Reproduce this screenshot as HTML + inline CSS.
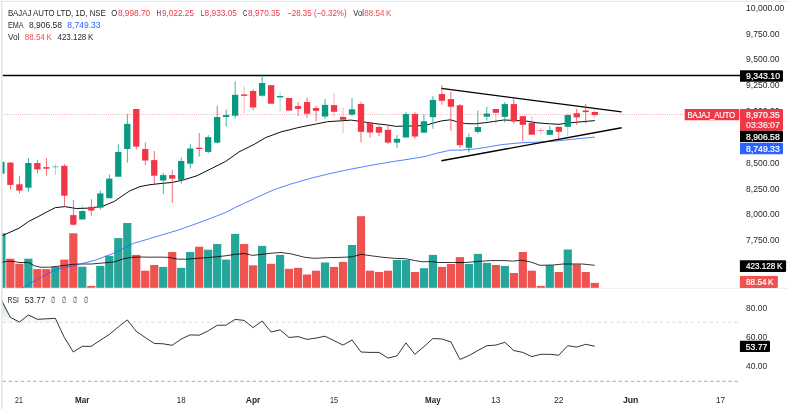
<!DOCTYPE html>
<html lang="en"><head><meta charset="utf-8"><title>BAJAJ AUTO LTD chart</title>
<style>html,body{margin:0;padding:0;background:#fff}body{width:788px;height:409px;overflow:hidden;position:relative}svg{position:absolute;left:0;top:0;display:block}text{font-family:"Liberation Sans",Arial,sans-serif;font-size:8.66px;fill:#1c202b;white-space:pre}.b{font-weight:bold}.w{fill:#fff;stroke:#fff;stroke-width:.22px}.r{fill:#F23645}.vr{fill:#ef5350}.bl{fill:#2962FF}.t{fill-opacity:.82}</style></head><body>
<svg width="788" height="409" viewBox="0 0 788 409">
<defs><clipPath id="pc"><rect x="2.6" y="2" width="737.4" height="286.2"/></clipPath><clipPath id="rc"><rect x="2.6" y="289" width="737.4" height="100"/></clipPath><linearGradient id="og" x1="0" y1="0" x2="0" y2="1"><stop offset="0" stop-color="#4caf50" stop-opacity="0.35"/><stop offset="1" stop-color="#4caf50" stop-opacity="0.03"/></linearGradient></defs>
<rect x="0" y="0.8" width="788" height="1" fill="#e0e3eb"/>
<rect x="1.1" y="1" width="1.4" height="408" fill="#e0e3eb"/>
<rect x="2" y="287.8" width="786" height="1" fill="#e9ebf0"/>
<g clip-path="url(#pc)">
<rect x="-2.70" y="233.3" width="8.2" height="54.5" fill="#26a69a"/>
<rect x="6.29" y="258.7" width="8.2" height="29.1" fill="#ef5350"/>
<rect x="15.28" y="263.8" width="8.2" height="24.0" fill="#ef5350"/>
<rect x="24.27" y="258.7" width="8.2" height="29.1" fill="#26a69a"/>
<rect x="33.26" y="269.1" width="8.2" height="18.7" fill="#ef5350"/>
<rect x="42.25" y="269.1" width="8.2" height="18.7" fill="#ef5350"/>
<rect x="51.24" y="266.9" width="8.2" height="20.9" fill="#26a69a"/>
<rect x="60.23" y="259.6" width="8.2" height="28.2" fill="#ef5350"/>
<rect x="69.22" y="233.3" width="8.2" height="54.5" fill="#ef5350"/>
<rect x="78.21" y="266.7" width="8.2" height="21.1" fill="#26a69a"/>
<rect x="87.20" y="285.9" width="8.2" height="1.9" fill="#ef5350"/>
<rect x="96.19" y="265.9" width="8.2" height="21.9" fill="#26a69a"/>
<rect x="105.18" y="255.8" width="8.2" height="32.0" fill="#26a69a"/>
<rect x="114.17" y="238.1" width="8.2" height="49.7" fill="#26a69a"/>
<rect x="123.16" y="223.0" width="8.2" height="64.8" fill="#26a69a"/>
<rect x="132.15" y="254.9" width="8.2" height="32.9" fill="#ef5350"/>
<rect x="141.14" y="270.7" width="8.2" height="17.1" fill="#ef5350"/>
<rect x="150.13" y="265.0" width="8.2" height="22.8" fill="#ef5350"/>
<rect x="159.12" y="266.9" width="8.2" height="20.9" fill="#26a69a"/>
<rect x="168.11" y="252.0" width="8.2" height="35.8" fill="#ef5350"/>
<rect x="177.10" y="267.8" width="8.2" height="20.0" fill="#26a69a"/>
<rect x="186.09" y="252.0" width="8.2" height="35.8" fill="#26a69a"/>
<rect x="195.08" y="246.7" width="8.2" height="41.1" fill="#ef5350"/>
<rect x="204.07" y="249.7" width="8.2" height="38.1" fill="#26a69a"/>
<rect x="213.06" y="244.0" width="8.2" height="43.8" fill="#26a69a"/>
<rect x="222.05" y="259.6" width="8.2" height="28.2" fill="#26a69a"/>
<rect x="231.04" y="233.9" width="8.2" height="53.9" fill="#26a69a"/>
<rect x="240.03" y="244.0" width="8.2" height="43.8" fill="#ef5350"/>
<rect x="249.02" y="265.3" width="8.2" height="22.5" fill="#ef5350"/>
<rect x="258.01" y="245.9" width="8.2" height="41.9" fill="#26a69a"/>
<rect x="267.00" y="263.8" width="8.2" height="24.0" fill="#ef5350"/>
<rect x="275.99" y="254.9" width="8.2" height="32.9" fill="#26a69a"/>
<rect x="284.98" y="268.8" width="8.2" height="19.0" fill="#ef5350"/>
<rect x="293.97" y="267.8" width="8.2" height="20.0" fill="#ef5350"/>
<rect x="302.96" y="274.5" width="8.2" height="13.3" fill="#ef5350"/>
<rect x="311.95" y="270.7" width="8.2" height="17.1" fill="#ef5350"/>
<rect x="320.94" y="262.5" width="8.2" height="25.3" fill="#26a69a"/>
<rect x="329.93" y="266.9" width="8.2" height="20.9" fill="#ef5350"/>
<rect x="338.92" y="261.9" width="8.2" height="25.9" fill="#ef5350"/>
<rect x="347.91" y="245.0" width="8.2" height="42.8" fill="#26a69a"/>
<rect x="356.90" y="216.2" width="8.2" height="71.6" fill="#ef5350"/>
<rect x="365.89" y="270.7" width="8.2" height="17.1" fill="#ef5350"/>
<rect x="374.88" y="272.0" width="8.2" height="15.8" fill="#ef5350"/>
<rect x="383.87" y="270.7" width="8.2" height="17.1" fill="#ef5350"/>
<rect x="392.86" y="260.0" width="8.2" height="27.8" fill="#26a69a"/>
<rect x="401.85" y="260.0" width="8.2" height="27.8" fill="#26a69a"/>
<rect x="410.84" y="272.0" width="8.2" height="15.8" fill="#ef5350"/>
<rect x="419.83" y="268.2" width="8.2" height="19.6" fill="#26a69a"/>
<rect x="428.82" y="254.9" width="8.2" height="32.9" fill="#26a69a"/>
<rect x="437.81" y="266.9" width="8.2" height="20.9" fill="#ef5350"/>
<rect x="446.80" y="264.0" width="8.2" height="23.8" fill="#ef5350"/>
<rect x="455.79" y="257.1" width="8.2" height="30.7" fill="#ef5350"/>
<rect x="464.78" y="264.0" width="8.2" height="23.8" fill="#26a69a"/>
<rect x="473.77" y="253.9" width="8.2" height="33.9" fill="#26a69a"/>
<rect x="482.76" y="262.9" width="8.2" height="24.9" fill="#26a69a"/>
<rect x="491.75" y="265.0" width="8.2" height="22.8" fill="#ef5350"/>
<rect x="500.74" y="265.9" width="8.2" height="21.9" fill="#26a69a"/>
<rect x="509.73" y="273.0" width="8.2" height="14.8" fill="#ef5350"/>
<rect x="518.72" y="252.0" width="8.2" height="35.8" fill="#ef5350"/>
<rect x="527.71" y="270.7" width="8.2" height="17.1" fill="#ef5350"/>
<rect x="536.70" y="285.9" width="8.2" height="1.9" fill="#ef5350"/>
<rect x="545.69" y="265.3" width="8.2" height="22.5" fill="#26a69a"/>
<rect x="554.68" y="272.0" width="8.2" height="15.8" fill="#ef5350"/>
<rect x="563.67" y="249.5" width="8.2" height="38.3" fill="#26a69a"/>
<rect x="572.66" y="264.4" width="8.2" height="23.4" fill="#ef5350"/>
<rect x="581.65" y="272.0" width="8.2" height="15.8" fill="#ef5350"/>
<rect x="590.64" y="282.9" width="8.2" height="4.9" fill="#ef5350"/>
<polyline fill="none" stroke="#000" stroke-width="0.8" stroke-linejoin="round" points="1.9,262.5 7.6,261.1 14.3,261.5 19,262.5 28.6,262.5 34.3,265.7 40,267.2 49.5,267.2 61,265.9 72.4,264.4 80,264 91.4,264 102.9,263 114.3,261.9 123.8,258.7 131.4,257.3 141,257 150,257.2 159,257.1 168.6,257.3 178.1,259.2 187.6,259.2 197.1,258.3 206.7,257.7 216.2,256.8 225.7,255.8 235.2,254.3 244.8,253.5 252.4,255.4 261.9,254.3 273.3,253 281,252.5 291.4,253.9 304.8,257.3 314.3,258.3 327.6,257.7 342.9,257.3 352.4,256.8 361,254.3 371.4,255.8 382.9,257.3 394.3,258.3 405.7,258.7 415.2,260.6 422.9,261.8 430,261.5 439,262.5 452.4,262.5 465.7,262.5 477.1,261.5 490.5,260.6 503.8,260.6 513.3,261.1 521,260.2 530.5,261.9 540,265.3 553.3,265 562.9,264 582.4,264 594.8,265.3"/>
<polyline fill="none" stroke="#2962FF" stroke-width="0.8" stroke-linejoin="round" points="21.9,288.3 38.1,278.7 57.1,269.1 76.2,265 95.2,260.2 114.3,253 133.3,243.4 140,241.5 159,235.8 178.1,230.1 197.1,223.4 216.2,216.2 226.7,212 234.3,207.9 254.3,198.6 273.3,190 289.9,184.3 310,178.5 330,173.5 350,169.3 370,165.5 390,162 410,159 425,156.5 437.7,153 450.4,150.2 463.1,150 475.8,148.9 488.5,146.9 501.2,144.7 513.9,143.4 525,142.6 534,142.3 553,141.3 569,139.6 594.8,137.1"/>
<polyline fill="none" stroke="#000" stroke-width="0.95" stroke-linejoin="round" points="1.9,235.8 19,228.2 28.6,221.5 38,216.7 46.7,212 55.2,207.7 64.8,206.6 76.2,208.5 89.5,208.1 102.9,206.2 114.3,201.4 129.5,191 140,186.6 150,184.7 159,183.7 172.4,182.4 183.8,179.9 197.1,175.7 210.5,169 225.7,161.4 239,151.9 254.3,144.3 265.7,137.6 281,131.9 290,129.7 299,127.4 318.1,123.6 327.6,121.7 342.9,120.7 351.4,120.1 361.9,121.7 375.2,123.6 386.7,124.9 396.2,126.4 401.9,126.1 413.3,125.9 425,125.6 432.6,123.2 441.5,120.9 450.4,119.8 456.8,121.7 465.7,123.6 475.8,123.8 486,122.6 494.9,121.3 503.8,120 514,120.4 525,120.9 538,122.9 549.5,123.8 559,124.3 569,122.9 594.8,120.6"/>
<line x1="2.6" y1="75.52" x2="740" y2="75.52" stroke="#000" stroke-width="1.35"/>
<line x1="441.3" y1="88.4" x2="621.6" y2="111.9" stroke="#000" stroke-width="1.4"/>
<line x1="441.3" y1="160.8" x2="621.6" y2="127.8" stroke="#000" stroke-width="1.4"/>
<line x1="2.6" y1="114.4" x2="740" y2="114.4" stroke="#F23645" stroke-width="0.75" stroke-dasharray="0.75 1.45" opacity="0.75"/>
<rect x="1.03" y="161.8" width="0.74" height="11.9" fill="#089981"/>
<rect x="-1.75" y="161.8" width="6.3" height="11.9" fill="#089981"/>
<rect x="10.02" y="162.0" width="0.74" height="27.6" fill="#F23645"/>
<rect x="7.24" y="162.6" width="6.3" height="22.3" fill="#F23645"/>
<rect x="19.01" y="175.7" width="0.74" height="17.7" fill="#F23645"/>
<rect x="16.23" y="184.3" width="6.3" height="6.3" fill="#F23645"/>
<rect x="28.00" y="158.0" width="0.74" height="33.5" fill="#089981"/>
<rect x="25.22" y="163.0" width="6.3" height="24.7" fill="#089981"/>
<rect x="36.99" y="160.0" width="0.74" height="13.2" fill="#F23645"/>
<rect x="34.21" y="163.0" width="6.3" height="6.4" fill="#F23645"/>
<rect x="45.98" y="158.0" width="0.74" height="17.7" fill="#F23645"/>
<rect x="43.20" y="167.1" width="6.3" height="1.6" fill="#F23645"/>
<rect x="54.97" y="164.3" width="0.74" height="10.5" fill="#089981" fill-opacity="0.5"/>
<rect x="52.19" y="166.3" width="6.3" height="1.0" fill="#089981" fill-opacity="0.6"/>
<rect x="63.96" y="164.0" width="0.74" height="42.2" fill="#F23645"/>
<rect x="61.18" y="165.8" width="6.3" height="29.9" fill="#F23645"/>
<rect x="72.95" y="199.9" width="0.74" height="25.9" fill="#F23645"/>
<rect x="70.17" y="215.1" width="6.3" height="9.6" fill="#F23645"/>
<rect x="81.94" y="205.2" width="0.74" height="14.3" fill="#089981" fill-opacity="0.5"/>
<rect x="79.16" y="211.0" width="6.3" height="8.5" fill="#089981"/>
<rect x="90.93" y="199.1" width="0.74" height="16.6" fill="#F23645"/>
<rect x="88.15" y="206.8" width="6.3" height="3.8" fill="#F23645"/>
<rect x="99.92" y="190.6" width="0.74" height="19.0" fill="#089981"/>
<rect x="97.14" y="193.4" width="6.3" height="14.3" fill="#089981"/>
<rect x="108.91" y="174.4" width="0.74" height="23.8" fill="#089981"/>
<rect x="106.13" y="178.6" width="6.3" height="19.6" fill="#089981"/>
<rect x="117.90" y="144.3" width="0.74" height="32.4" fill="#089981"/>
<rect x="115.12" y="151.9" width="6.3" height="24.8" fill="#089981"/>
<rect x="126.89" y="113.8" width="0.74" height="48.8" fill="#089981"/>
<rect x="124.11" y="123.9" width="6.3" height="25.1" fill="#089981"/>
<rect x="135.88" y="109.0" width="0.74" height="40.4" fill="#F23645"/>
<rect x="133.10" y="109.0" width="6.3" height="37.6" fill="#F23645"/>
<rect x="144.87" y="142.4" width="0.74" height="22.8" fill="#F23645"/>
<rect x="142.09" y="149.0" width="6.3" height="11.5" fill="#F23645"/>
<rect x="153.86" y="151.0" width="0.74" height="33.3" fill="#F23645"/>
<rect x="151.08" y="160.1" width="6.3" height="15.6" fill="#F23645"/>
<rect x="162.85" y="172.9" width="0.74" height="20.9" fill="#089981"/>
<rect x="160.07" y="175.1" width="6.3" height="5.4" fill="#089981"/>
<rect x="171.84" y="170.0" width="0.74" height="32.8" fill="#F23645"/>
<rect x="169.06" y="175.1" width="6.3" height="3.5" fill="#F23645"/>
<rect x="180.83" y="157.6" width="0.74" height="26.1" fill="#089981"/>
<rect x="178.05" y="161.0" width="6.3" height="18.9" fill="#089981"/>
<rect x="189.82" y="143.8" width="0.74" height="24.9" fill="#089981"/>
<rect x="187.04" y="148.5" width="6.3" height="15.2" fill="#089981"/>
<rect x="198.81" y="133.0" width="0.74" height="23.7" fill="#F23645"/>
<rect x="196.03" y="147.7" width="6.3" height="1.3" fill="#F23645"/>
<rect x="207.80" y="135.1" width="0.74" height="18.1" fill="#089981"/>
<rect x="205.02" y="137.1" width="6.3" height="14.8" fill="#089981"/>
<rect x="216.79" y="105.8" width="0.74" height="37.8" fill="#089981"/>
<rect x="214.01" y="117.0" width="6.3" height="25.6" fill="#089981"/>
<rect x="225.78" y="109.4" width="0.74" height="17.2" fill="#089981"/>
<rect x="223.00" y="115.1" width="6.3" height="1.9" fill="#089981"/>
<rect x="234.77" y="81.4" width="0.74" height="37.2" fill="#089981"/>
<rect x="231.99" y="94.8" width="6.3" height="20.9" fill="#089981"/>
<rect x="243.76" y="86.2" width="0.74" height="26.7" fill="#F23645" fill-opacity="0.5"/>
<rect x="240.98" y="94.4" width="6.3" height="1.5" fill="#F23645"/>
<rect x="252.75" y="89.0" width="0.74" height="21.0" fill="#F23645"/>
<rect x="249.97" y="91.0" width="6.3" height="16.5" fill="#F23645"/>
<rect x="261.74" y="74.8" width="0.74" height="21.9" fill="#089981"/>
<rect x="258.96" y="83.0" width="6.3" height="12.7" fill="#089981"/>
<rect x="270.73" y="85.2" width="0.74" height="18.5" fill="#F23645"/>
<rect x="267.95" y="85.2" width="6.3" height="18.5" fill="#F23645"/>
<rect x="279.72" y="92.0" width="0.74" height="19.5" fill="#089981" fill-opacity="0.5"/>
<rect x="276.94" y="96.0" width="6.3" height="1.4" fill="#089981"/>
<rect x="288.71" y="97.9" width="0.74" height="12.7" fill="#F23645"/>
<rect x="285.93" y="98.0" width="6.3" height="12.6" fill="#F23645"/>
<rect x="297.70" y="102.0" width="0.74" height="14.0" fill="#F23645"/>
<rect x="294.92" y="106.0" width="6.3" height="2.9" fill="#F23645"/>
<rect x="306.69" y="97.5" width="0.74" height="20.4" fill="#F23645"/>
<rect x="303.91" y="102.0" width="6.3" height="11.7" fill="#F23645"/>
<rect x="315.68" y="105.9" width="0.74" height="15.4" fill="#F23645"/>
<rect x="312.90" y="108.0" width="6.3" height="2.8" fill="#F23645"/>
<rect x="324.67" y="98.8" width="0.74" height="20.0" fill="#089981"/>
<rect x="321.89" y="104.9" width="6.3" height="11.6" fill="#089981"/>
<rect x="333.66" y="93.1" width="0.74" height="23.8" fill="#F23645" fill-opacity="0.5"/>
<rect x="330.88" y="105.1" width="6.3" height="6.7" fill="#F23645"/>
<rect x="342.65" y="107.8" width="0.74" height="25.3" fill="#F23645" fill-opacity="0.5"/>
<rect x="339.87" y="116.9" width="6.3" height="2.9" fill="#F23645"/>
<rect x="351.64" y="97.9" width="0.74" height="18.1" fill="#089981"/>
<rect x="348.86" y="109.3" width="6.3" height="5.3" fill="#089981"/>
<rect x="360.63" y="101.7" width="0.74" height="40.9" fill="#F23645"/>
<rect x="357.85" y="104.0" width="6.3" height="27.8" fill="#F23645"/>
<rect x="369.62" y="122.6" width="0.74" height="14.9" fill="#F23645"/>
<rect x="366.84" y="122.6" width="6.3" height="9.9" fill="#F23645"/>
<rect x="378.61" y="125.5" width="0.74" height="10.5" fill="#F23645"/>
<rect x="375.83" y="127.0" width="6.3" height="5.7" fill="#F23645"/>
<rect x="387.60" y="124.9" width="0.74" height="19.1" fill="#F23645"/>
<rect x="384.82" y="129.9" width="6.3" height="12.7" fill="#F23645"/>
<rect x="396.59" y="135.0" width="0.74" height="13.0" fill="#089981"/>
<rect x="393.81" y="138.8" width="6.3" height="3.8" fill="#089981"/>
<rect x="405.58" y="112.1" width="0.74" height="25.4" fill="#089981"/>
<rect x="402.80" y="114.0" width="6.3" height="23.5" fill="#089981"/>
<rect x="414.57" y="112.1" width="0.74" height="26.7" fill="#F23645"/>
<rect x="411.79" y="114.0" width="6.3" height="22.5" fill="#F23645"/>
<rect x="423.56" y="114.4" width="0.74" height="18.3" fill="#089981"/>
<rect x="420.78" y="121.3" width="6.3" height="11.4" fill="#089981"/>
<rect x="432.55" y="96.1" width="0.74" height="32.7" fill="#089981"/>
<rect x="429.77" y="99.9" width="6.3" height="17.3" fill="#089981"/>
<rect x="441.54" y="85.1" width="0.74" height="19.7" fill="#F23645"/>
<rect x="438.76" y="94.0" width="6.3" height="6.8" fill="#F23645"/>
<rect x="450.53" y="92.0" width="0.74" height="38.7" fill="#F23645"/>
<rect x="447.75" y="99.1" width="6.3" height="7.6" fill="#F23645"/>
<rect x="459.52" y="103.9" width="0.74" height="44.1" fill="#F23645"/>
<rect x="456.74" y="105.3" width="6.3" height="39.9" fill="#F23645"/>
<rect x="468.51" y="133.4" width="0.74" height="19.2" fill="#089981"/>
<rect x="465.73" y="137.2" width="6.3" height="10.6" fill="#089981"/>
<rect x="477.50" y="110.5" width="0.74" height="22.8" fill="#089981"/>
<rect x="474.72" y="127.0" width="6.3" height="4.9" fill="#089981"/>
<rect x="486.49" y="106.7" width="0.74" height="14.0" fill="#089981"/>
<rect x="483.71" y="113.5" width="6.3" height="3.2" fill="#089981"/>
<rect x="495.48" y="109.0" width="0.74" height="15.4" fill="#F23645" fill-opacity="0.5"/>
<rect x="492.70" y="109.0" width="6.3" height="3.8" fill="#F23645"/>
<rect x="504.47" y="101.9" width="0.74" height="20.6" fill="#089981"/>
<rect x="501.69" y="104.1" width="6.3" height="12.7" fill="#089981"/>
<rect x="513.46" y="98.4" width="0.74" height="25.4" fill="#F23645"/>
<rect x="510.68" y="104.1" width="6.3" height="17.5" fill="#F23645"/>
<rect x="522.45" y="116.2" width="0.74" height="25.1" fill="#F23645"/>
<rect x="519.67" y="116.2" width="6.3" height="8.6" fill="#F23645"/>
<rect x="531.44" y="116.2" width="0.74" height="18.5" fill="#F23645" fill-opacity="0.5"/>
<rect x="528.66" y="122.9" width="6.3" height="11.8" fill="#F23645"/>
<rect x="540.43" y="127.7" width="0.74" height="6.1" fill="#F23645" fill-opacity="0.5"/>
<rect x="537.65" y="130.1" width="6.3" height="0.9" fill="#F23645" fill-opacity="0.6"/>
<rect x="549.42" y="126.0" width="0.74" height="8.8" fill="#089981"/>
<rect x="546.64" y="130.0" width="6.3" height="4.8" fill="#089981"/>
<rect x="558.41" y="126.8" width="0.74" height="12.0" fill="#F23645"/>
<rect x="555.63" y="126.8" width="6.3" height="5.0" fill="#F23645"/>
<rect x="567.40" y="113.1" width="0.74" height="23.2" fill="#089981" fill-opacity="0.5"/>
<rect x="564.62" y="115.0" width="6.3" height="11.8" fill="#089981"/>
<rect x="576.39" y="108.8" width="0.74" height="16.1" fill="#F23645"/>
<rect x="573.61" y="113.2" width="6.3" height="4.2" fill="#F23645"/>
<rect x="585.38" y="104.0" width="0.74" height="19.7" fill="#F23645"/>
<rect x="582.60" y="110.5" width="6.3" height="1.6" fill="#F23645"/>
<rect x="594.37" y="109.4" width="0.74" height="8.6" fill="#F23645" fill-opacity="0.5"/>
<rect x="591.59" y="112.0" width="6.3" height="3.1" fill="#F23645"/>
</g>
<g clip-path="url(#rc)">
<polygon fill="url(#og)" points="2.6,322.2 2.6,300.5 10.4,317.4 19.4,322.1 28.4,314.9 37.4,319.3 46.4,318.8 55.3,318.3 57.2,322.2"/>
<line x1="2.6" y1="322.2" x2="740" y2="322.2" stroke="#c2c4ca" stroke-width="0.62" stroke-dasharray="3.4 2.8"/>
<line x1="2.6" y1="381.3" x2="740" y2="381.3" stroke="#77797f" stroke-width="0.65" stroke-dasharray="3.3 2.8"/>
<polyline fill="none" stroke="#000" stroke-width="0.8" stroke-linejoin="round" points="1.4,300.2 10.4,317.4 19.4,322.1 28.4,314.9 37.4,319.3 46.4,318.8 55.3,318.3 64.3,337.4 73.3,352.0 82.3,346.3 91.3,346.3 100.3,340.2 109.3,334.5 118.3,326.9 127.3,319.9 136.2,331.3 145.2,337.5 154.2,343.4 163.2,343.8 172.2,345.3 181.2,339.0 190.2,334.9 199.2,335.2 208.2,330.9 217.2,325.3 226.2,325.1 235.1,319.4 244.1,320.4 253.1,327.6 262.1,321.0 271.1,332.0 280.1,329.9 289.1,337.5 298.1,336.6 307.1,339.4 316.1,338.1 325.0,336.2 334.0,340.6 343.0,345.1 352.0,340.0 361.0,352.0 370.0,352.4 379.0,352.4 388.0,358.1 397.0,355.8 405.9,342.9 414.9,354.3 423.9,346.7 432.9,338.5 441.9,339.0 450.9,341.9 459.9,359.4 468.9,355.6 477.9,350.5 486.9,345.7 495.8,345.1 504.8,342.3 513.8,350.5 522.8,352.4 531.8,356.6 540.8,354.3 549.8,354.3 558.8,355.2 567.8,345.7 576.8,347.1 585.8,344.3 594.7,346.2"/>
</g>
<text x="7.9" y="15.7" textLength="97.9" lengthAdjust="spacingAndGlyphs">BAJAJ AUTO LTD, 1D, NSE</text>
<text x="111.2" y="15.7" textLength="6.1" lengthAdjust="spacingAndGlyphs">O</text>
<text x="117.9" y="15.7" class="r" textLength="32.3" lengthAdjust="spacingAndGlyphs">8,998.70</text>
<text x="156.4" y="15.7" textLength="4.5" lengthAdjust="spacingAndGlyphs">H</text>
<text x="161.9" y="15.7" class="r" textLength="32.1" lengthAdjust="spacingAndGlyphs">9,022.25</text>
<text x="200.9" y="15.7" textLength="3.1" lengthAdjust="spacingAndGlyphs">L</text>
<text x="204.6" y="15.7" class="r" textLength="32.4" lengthAdjust="spacingAndGlyphs">8,933.05</text>
<text x="243.0" y="15.7" textLength="4.3" lengthAdjust="spacingAndGlyphs">C</text>
<text x="248.1" y="15.7" class="r" textLength="32.1" lengthAdjust="spacingAndGlyphs">8,970.35</text>
<text x="287.1" y="15.7" class="r" textLength="59.5" lengthAdjust="spacingAndGlyphs">−28.35 (−0.32%)</text>
<text x="353.3" y="15.7" textLength="10.6" lengthAdjust="spacingAndGlyphs">Vol</text>
<text x="364.3" y="15.7" class="vr" textLength="27.0" lengthAdjust="spacingAndGlyphs">88.54 K</text>
<text x="7.9" y="27.9" textLength="15.7" lengthAdjust="spacingAndGlyphs">EMA</text>
<text x="28.9" y="27.9" textLength="33.2" lengthAdjust="spacingAndGlyphs">8,906.58</text>
<text x="67.3" y="27.9" class="bl" textLength="33.2" lengthAdjust="spacingAndGlyphs">8,749.33</text>
<text x="7.9" y="39.9" textLength="11.6" lengthAdjust="spacingAndGlyphs">Vol</text>
<text x="24.8" y="39.9" class="vr" textLength="27.2" lengthAdjust="spacingAndGlyphs">88.54 K</text>
<text x="57.5" y="39.9" textLength="35.7" lengthAdjust="spacingAndGlyphs">423.128 K</text>
<text x="7.6" y="302.5" textLength="11.4" lengthAdjust="spacingAndGlyphs">RSI</text>
<text x="24.8" y="302.5" textLength="20.5" lengthAdjust="spacingAndGlyphs">53.77</text>
<text x="51.1" y="302.5" textLength="4.4" lengthAdjust="spacingAndGlyphs">∅</text>
<text x="62.0" y="302.5" textLength="4.4" lengthAdjust="spacingAndGlyphs">∅</text>
<text x="73.0" y="302.5" textLength="4.4" lengthAdjust="spacingAndGlyphs">∅</text>
<text x="83.9" y="302.5" textLength="4.4" lengthAdjust="spacingAndGlyphs">∅</text>
<text x="746.1" y="10.7" textLength="38.2" lengthAdjust="spacingAndGlyphs">10,000.00</text>
<text x="746.1" y="36.5" textLength="33.4" lengthAdjust="spacingAndGlyphs">9,750.00</text>
<text x="746.1" y="62.4" textLength="33.4" lengthAdjust="spacingAndGlyphs">9,500.00</text>
<text x="746.1" y="88.2" textLength="33.4" lengthAdjust="spacingAndGlyphs">9,250.00</text>
<text x="746.1" y="114.1" textLength="33.4" lengthAdjust="spacingAndGlyphs">9,000.00</text>
<text x="746.1" y="139.9" textLength="33.4" lengthAdjust="spacingAndGlyphs">8,750.00</text>
<text x="746.1" y="165.7" textLength="33.4" lengthAdjust="spacingAndGlyphs">8,500.00</text>
<text x="746.1" y="191.6" textLength="33.4" lengthAdjust="spacingAndGlyphs">8,250.00</text>
<text x="746.1" y="217.4" textLength="33.4" lengthAdjust="spacingAndGlyphs">8,000.00</text>
<text x="746.1" y="243.3" textLength="33.4" lengthAdjust="spacingAndGlyphs">7,750.00</text>
<text x="746.1" y="311.2" textLength="21.1" lengthAdjust="spacingAndGlyphs">80.00</text>
<text x="746.1" y="340.2" textLength="21.1" lengthAdjust="spacingAndGlyphs">60.00</text>
<text x="746.1" y="369.3" textLength="21.1" lengthAdjust="spacingAndGlyphs">40.00</text>
<path d="M740 70.2H781.7Q783 70.2 783 71.5V80.5Q783 81.8 781.7 81.8H740Z" fill="#000"/>
<text x="746.1" y="79.1" class="w" textLength="33.9" lengthAdjust="spacingAndGlyphs">9,343.10</text>
<path d="M684.7 109H738.0Q739.3 109 739.3 110.3V119.0Q739.3 120.3 738.0 120.3H684.7Z" fill="#F23645"/>
<text x="687.4" y="117.7" class="w" textLength="47.8" lengthAdjust="spacingAndGlyphs">BAJAJ_AUTO</text>
<path d="M740 109H781.7Q783 109 783 110.3V129.5Q783 130.8 781.7 130.8H740Z" fill="#F23645"/>
<text x="746.1" y="117.7" class="w" textLength="33.6" lengthAdjust="spacingAndGlyphs">8,970.35</text>
<text x="746.1" y="127.5" class="w t" textLength="33.6" lengthAdjust="spacingAndGlyphs">03:36:07</text>
<path d="M740 130.7H781.7Q783 130.7 783 132.0V140.7Q783 142 781.7 142H740Z" fill="#000"/>
<text x="746.1" y="139.5" class="w" textLength="33.6" lengthAdjust="spacingAndGlyphs">8,906.58</text>
<path d="M740 142.7H781.7Q783 142.7 783 144.0V152.9Q783 154.2 781.7 154.2H740Z" fill="#2962FF"/>
<text x="746.1" y="151.8" class="w" textLength="33.6" lengthAdjust="spacingAndGlyphs">8,749.33</text>
<path d="M739.9 260.2H784.8Q786.1 260.2 786.1 261.5V270.7Q786.1 272 784.8 272H739.9Z" fill="#000"/>
<text x="746.1" y="269.2" class="w" textLength="36.3" lengthAdjust="spacingAndGlyphs">423.128 K</text>
<path d="M739.9 275.9H776.6Q777.9 275.9 777.9 277.2V286.6Q777.9 287.9 776.6 287.9H739.9Z" fill="#ef5350"/>
<text x="746.1" y="284.9" class="w" textLength="27.4" lengthAdjust="spacingAndGlyphs">88.54 K</text>
<path d="M739.9 340.7H768.7Q770 340.7 770 342.0V350.8Q770 352.1 768.7 352.1H739.9Z" fill="#000"/>
<text x="745.8" y="349.6" class="w" textLength="21.4" lengthAdjust="spacingAndGlyphs">53.77</text>
<text x="18.9" y="402.6" text-anchor="middle" textLength="7.7" lengthAdjust="spacingAndGlyphs">21</text>
<text x="82.3" y="402.6" class="b" text-anchor="middle" textLength="14.4" lengthAdjust="spacingAndGlyphs">Mar</text>
<text x="181.2" y="402.6" text-anchor="middle" textLength="8.8" lengthAdjust="spacingAndGlyphs">18</text>
<text x="253.1" y="402.6" class="b" text-anchor="middle" textLength="14.5" lengthAdjust="spacingAndGlyphs">Apr</text>
<text x="334.0" y="402.6" text-anchor="middle" textLength="8.0" lengthAdjust="spacingAndGlyphs">15</text>
<text x="432.9" y="402.6" class="b" text-anchor="middle" textLength="15.6" lengthAdjust="spacingAndGlyphs">May</text>
<text x="495.8" y="402.6" text-anchor="middle" textLength="9.2" lengthAdjust="spacingAndGlyphs">13</text>
<text x="558.8" y="402.6" text-anchor="middle" textLength="9.5" lengthAdjust="spacingAndGlyphs">22</text>
<text x="630.7" y="402.6" class="b" text-anchor="middle" textLength="15.4" lengthAdjust="spacingAndGlyphs">Jun</text>
<text x="720.6" y="402.6" text-anchor="middle" textLength="9.2" lengthAdjust="spacingAndGlyphs">17</text>
</svg></body></html>
